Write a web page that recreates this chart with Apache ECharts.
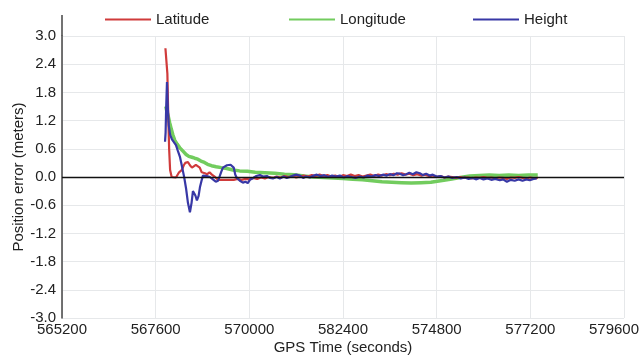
<!DOCTYPE html>
<html><head><meta charset="utf-8">
<script src="https://cdn.jsdelivr.net/npm/echarts@6/dist/echarts.min.js"></script>
<style>html,body{margin:0;padding:0;background:#fff}#c{width:642px;height:355px}</style>
</head><body><div id="c"></div>
<script>
var xTickLabels = ['565200','567600','570000','582400','574800','577200','579600'];
var yTickLabels = ['-3.0','-2.4','-1.8','-1.2','-0.6','0.0','0.6','1.2','1.8','2.4','3.0'];
var seriesNames = ['Latitude','Longitude','Height'];

var latTime = [567850,567865,567885,567900,567920,567945,567970,568010,568060,568120,568200,568273,568320,568360,568427,568478,568530,568580,568630,568680,568730,568780,568820,568862,568920,568980,569040,569120,569195,569300,569450,569600,569700,569800,569900,570000,570100,570200,570300,570400,570500,570600,570700,570800,570900,571000,571100,571200,571300,571400,571500,571600,571700,571800,571900,572000,572100,572200,572300,572400,572500,572600,572700,572800,572900,573000,573100,573200,573300,573400,573500,573600,573700,573800,573900,574000,574100,574200,574300,574400,574500,574600,574700,574800,574900,575000,575100,575200,575300,575400,575500,575600,575700,575800,575900,576000,576100,576200,576300,576400,576500,576600,576700,576800,576900,577000,577100,577200,577300,577390];
var latVal = [2.74,2.78,2.70,2.2,1.4,0.6,0.15,0.0,-0.03,-0.01,0.1,0.15,0.25,0.3,0.32,0.25,0.2,0.18,0.26,0.25,0.2,0.1,0.12,0.08,0.06,0.1,0.05,0.0,-0.06,-0.06,-0.06,-0.06,-0.04,-0.06,-0.04,-0.05,-0.02,-0.04,-0.01,-0.03,0.0,-0.02,0.01,-0.01,0.02,0.0,0.02,-0.01,0.01,0.03,0.01,0.04,0.02,0.05,0.02,0.04,0.01,0.03,0.0,0.04,0.02,0.05,0.02,0.04,0.01,0.03,0.05,0.02,0.05,0.03,0.06,0.04,0.07,0.05,0.08,0.05,0.07,0.04,0.06,0.03,0.05,0.02,0.03,0.0,0.02,-0.01,0.01,0.0,-0.02,0.0,-0.02,-0.01,-0.03,-0.01,-0.02,0.0,-0.02,-0.01,-0.03,-0.01,-0.02,-0.04,-0.01,-0.02,0.0,-0.02,-0.03,-0.01,-0.03,-0.02];

var lonTime = [567860,567880,567920,567960,568000,568040,568090,568150,568220,568300,568380,568450,568530,568600,568680,568760,568850,568930,569030,569150,569280,569420,569580,569750,569950,570150,570400,570650,570900,571150,571400,571650,571900,572150,572400,572650,572900,573150,573400,573650,573900,574150,574400,574650,574900,575150,575400,575650,575900,576150,576400,576650,576900,577150,577390];
var lonVal = [1.50,1.42,1.3,1.15,1.02,0.9,0.78,0.7,0.62,0.55,0.48,0.44,0.42,0.40,0.38,0.34,0.31,0.27,0.24,0.22,0.2,0.18,0.15,0.13,0.12,0.1,0.09,0.08,0.06,0.05,0.02,0.0,-0.01,-0.02,-0.03,-0.05,-0.06,-0.08,-0.1,-0.11,-0.12,-0.13,-0.12,-0.11,-0.08,-0.05,-0.01,0.02,0.03,0.04,0.03,0.04,0.03,0.04,0.04];

var hgtTime = [567840,567855,567870,567890,567910,567935,567970,568017,568060,568120,568171,568222,568280,568330,568380,568427,568478,568520,568555,568590,568620,568657,568700,568734,568785,568811,568860,568913,568990,569067,569140,569170,569200,569280,569323,569426,569520,569600,569640,569682,569758,569835,569900,569960,570015,570100,570180,570271,570350,570450,570530,570604,570700,570783,570880,570960,571039,571120,571200,571295,571380,571450,571550,571650,571730,571820,571920,572020,572120,572220,572319,572420,572520,572620,572720,572831,572930,573030,573130,573230,573330,573421,573520,573600,573700,573780,573856,573940,574020,574100,574190,574280,574368,574450,574530,574620,574700,574800,574900,575000,575100,575200,575315,575420,575520,575620,575720,575820,575905,576000,576100,576200,576300,576417,576500,576600,576700,576800,576900,577000,577100,577186,577280,577365];
var hgtVal = [0.75,0.95,1.5,2.02,1.5,1.1,0.9,0.8,0.76,0.68,0.55,0.43,0.2,0.0,-0.25,-0.55,-0.75,-0.55,-0.3,-0.35,-0.4,-0.5,-0.4,-0.22,-0.05,0.03,0.0,0.02,0.0,-0.05,-0.1,-0.14,-0.08,0.11,0.2,0.25,0.26,0.2,0.05,-0.02,-0.08,-0.12,-0.1,-0.13,-0.06,-0.02,0.02,0.04,0.01,0.02,-0.02,-0.03,0.0,-0.03,0.01,-0.02,0.0,0.03,0.05,0.03,-0.02,0.01,-0.01,0.03,0.05,0.02,0.04,0.0,0.03,0.01,0.03,-0.01,0.02,0.0,-0.02,0.01,-0.01,0.03,0.01,0.04,0.02,0.05,0.03,0.06,0.04,0.08,0.07,0.04,0.06,0.09,0.06,0.1,0.08,0.04,0.07,0.03,0.05,0.01,0.02,-0.01,0.01,-0.02,0.0,-0.03,-0.01,-0.04,-0.02,-0.05,-0.02,-0.05,-0.03,-0.06,-0.04,-0.07,-0.05,-0.1,-0.06,-0.08,-0.05,-0.08,-0.05,-0.07,-0.04,-0.03];

var X0 = 565200, XSTEP = 2400;
function pairs(t, v) { return t.map(function (x, i) { return [(x - X0) / XSTEP, v[i]]; }); }

var FONT = '"Liberation Sans", Arial, Helvetica, sans-serif';
var colors = ['#d03b3b', '#72cc5e', '#3838a6'];
var chart = echarts.init(document.getElementById('c'), null, {renderer: 'canvas'});
function leg(name, left) {
  return {data: [name], left: left, top: 7, itemWidth: 46, itemHeight: 2, itemGap: 4, icon: 'rect',
    textStyle: {fontFamily: FONT, fontSize: 15, color: '#222'}, selectedMode: false};
}
var lastIdx = xTickLabels.length - 1;
chart.setOption({
  animation: false,
  color: colors,
  legend: [leg(seriesNames[0], 100), leg(seriesNames[1], 284), leg(seriesNames[2], 468)],
  grid: {left: 62, right: 18, top: 36, bottom: 37, containLabel: false, outerBoundsMode: 'none'},
  xAxis: {
    type: 'value', min: 0, max: lastIdx, interval: 1,
    name: 'GPS Time (seconds)', nameLocation: 'middle', nameGap: 22, nameMoveOverlap: false,
    nameTextStyle: {fontFamily: FONT, fontSize: 15, color: '#222'},
    axisLine: {show: false}, axisTick: {show: false},
    axisLabel: {fontFamily: FONT, fontSize: 15, color: '#222', margin: 4,
      formatter: function (v) {
        var i = Math.round(v);
        return i === lastIdx ? '{last|' + xTickLabels[i] + '}' : xTickLabels[i];
      },
      rich: {last: {fontFamily: FONT, fontSize: 15, color: '#222', padding: [0, 20, 0, 0]}}},
    splitLine: {show: true, lineStyle: {color: '#e6e8ea', width: 1}}
  },
  yAxis: {
    type: 'value', min: -3, max: 3, interval: 0.6,
    name: 'Position error (meters)', nameLocation: 'middle', nameGap: 36, nameMoveOverlap: false,
    nameTextStyle: {fontFamily: FONT, fontSize: 15, color: '#222'},
    axisLine: {show: true, lineStyle: {color: '#444', width: 1.5}}, axisTick: {show: false},
    axisLabel: {fontFamily: FONT, fontSize: 15, color: '#222', margin: 6,
      formatter: function (v) { return yTickLabels[Math.round((v + 3) / 0.6)]; }},
    splitLine: {show: true, lineStyle: {color: '#e6e8ea', width: 1}}
  },
  graphic: [{type: 'line', shape: {x1: 62, y1: 15, x2: 62, y2: 36}, style: {stroke: '#444', lineWidth: 1.5}}],
  series: [
    {name: seriesNames[0], type: 'line', data: pairs(latTime, latVal), symbol: 'none', z: 3,
      lineStyle: {width: 2.2, color: colors[0]},
      markLine: {silent: true, symbol: 'none', label: {show: false}, lineStyle: {color: '#111', width: 1.3, type: 'solid'}, data: [{yAxis: 0}]}},
    {name: seriesNames[1], type: 'line', data: pairs(lonTime, lonVal), symbol: 'none', z: 2,
      lineStyle: {width: 3.5, color: colors[1]}},
    {name: seriesNames[2], type: 'line', data: pairs(hgtTime, hgtVal), symbol: 'none', z: 4,
      lineStyle: {width: 2.2, color: colors[2]}}
  ]
});
</script></body></html>
